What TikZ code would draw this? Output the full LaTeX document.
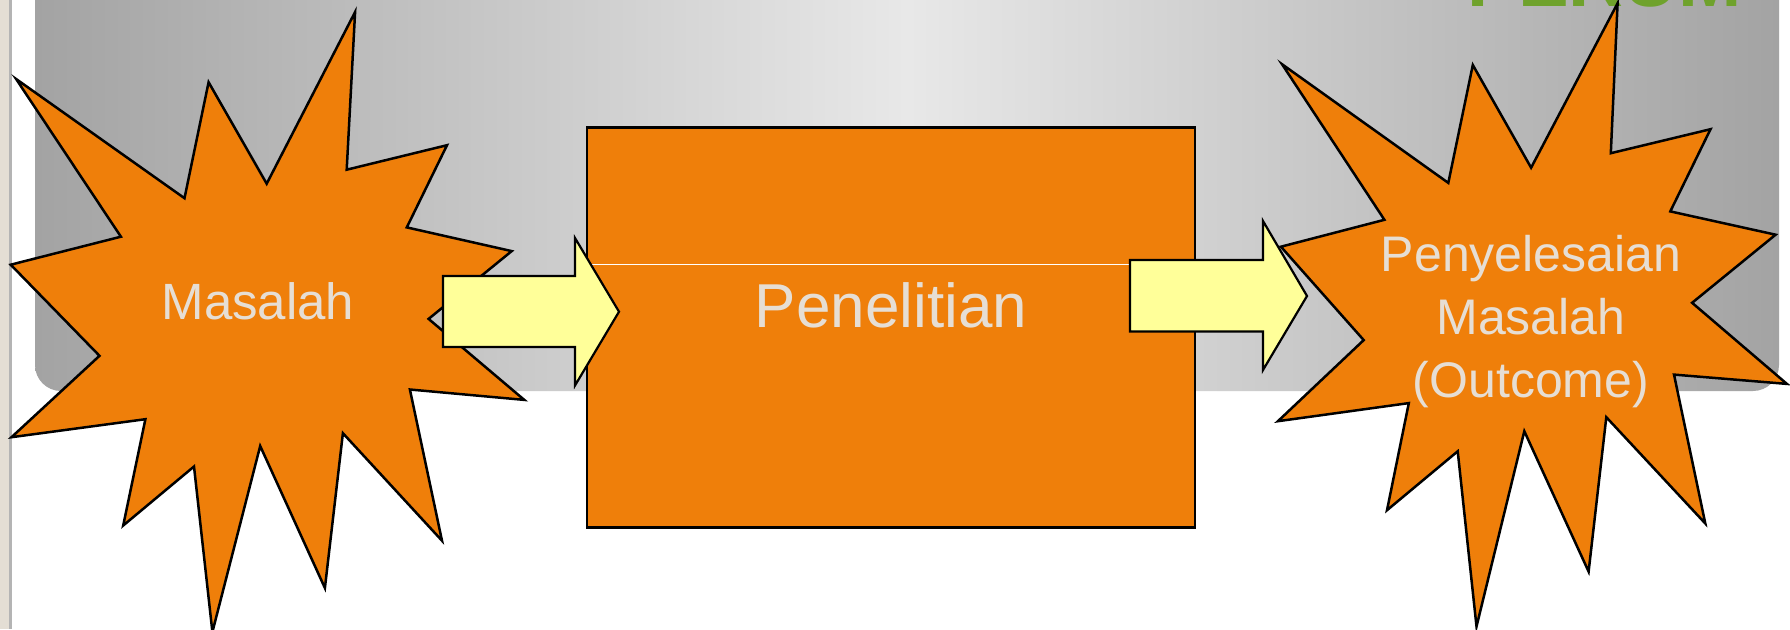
\documentclass[tikz,border=0pt]{standalone}
\usepackage{fontspec}
\setmainfont{Liberation Sans}
\usepackage{tikz}
\definecolor{burstorange}{HTML}{EF7F0A}
\definecolor{arrowyellow}{HTML}{FFFF99}
\definecolor{softtext}{HTML}{E6DED4}
\definecolor{titlegreen}{HTML}{6FA22C}
\definecolor{sidebar}{HTML}{E4DED4}
\definecolor{sideline}{HTML}{B4B4B4}
\definecolor{bannerdark}{HTML}{A3A3A3}
\definecolor{bannerlight}{HTML}{E8E8E8}

\begin{document}
\begin{tikzpicture}[x=1pt, y=-1pt, line join=miter]
			\tikzstyle{burst}=[fill=burstorange, draw=black, line width=2.5pt]
			\tikzstyle{blockarrow}=[fill=arrowyellow, draw=black, line width=2.2pt]
			\tikzstyle{box}=[rectangle, fill=burstorange, draw=black, line width=2.2pt, minimum width=608pt, minimum height=400pt, inner sep=0pt]
			\tikzstyle{annot}=[text=softtext, inner sep=0pt]
			\useasboundingbox (0,0) rectangle (1790,629);
			
			% Draw slide background
			\fill[white] (0,0) rectangle (1790,629);
			\fill[sidebar] (0,0) rectangle (9,629);
			\fill[sideline] (9,0) rectangle (12,629);
			\shade[left color=bannerdark, right color=bannerdark, middle color=bannerlight, rounded corners=26pt] (35,-60) rectangle (1779,391);
			\node[anchor=base east, text=titlegreen, inner sep=0pt, font=\fontsize{76}{76}\selectfont\bfseries] (judul) at (1742,6) {PERUM};
			
			% Draw starbursts
			\draw[burst] (16.1,79.0) -- (184.5,198.2) -- (208.6,82.2) -- (266.7,183.7) -- (355.1,12.0) -- (346.7,169.7) -- (447.0,145.2) -- (406.8,227.4) -- (511.7,251.1) -- (428.6,318.9) -- (524.3,399.9) -- (409.9,389.5) -- (442.0,540.7) -- (342.9,433.2) -- (324.9,588.0) -- (260.2,446.0) -- (212.4,632) -- (194.0,466.5) -- (123.2,525.5) -- (145.4,419.2) -- (11.5,437.2) -- (99.5,355.8) -- (10.7,264.7) -- (120.9,236.7) -- cycle;
			\draw[burst] (1282.0,64.2) -- (1448.3,182.9) -- (1472.8,65.0) -- (1531.1,167.7) -- (1617.6,3.2) -- (1610.8,153.2) -- (1710.5,129.2) -- (1670.3,211.4) -- (1775.6,234.7) -- (1692.1,302.8) -- (1786.9,383.9) -- (1674.0,374.6) -- (1705.3,523.5) -- (1606.3,417.2) -- (1588.6,571.6) -- (1524.3,431.2) -- (1476.5,626.5) -- (1457.7,451.3) -- (1387.0,510.2) -- (1408.8,403.1) -- (1277.9,421.2) -- (1363.7,340.1) -- (1280.9,246.7) -- (1384.4,219.8) -- cycle;
			\node[annot, anchor=base, font=\fontsize{51}{61}\selectfont] (masalah) at (258,319) {Masalah};
			\node[annot, anchor=base, align=center, font=\fontsize{50}{63}\selectfont] (hasil) at (1531,397) {Penyelesaian\\Masalah\\(Outcome)};
			
			% Draw research box
			\node[box] (riset) at (891,327.5) {};
			\draw[white, line width=0.8pt] (589,264) -- (1130,264);
			\node[annot, anchor=base, font=\fontsize{62}{62}\selectfont] (risetlabel) at (riset.center) {Penelitian};
			
			% Draw arrows
			\draw[blockarrow] (443,276) -- (575,276) -- (575,238) -- (619,311.7) -- (575,385.5) -- (575,347) -- (443,347) -- cycle;
			\draw[blockarrow] (1130,260) -- (1263,260) -- (1263,221) -- (1307,296) -- (1263,370) -- (1263,331.5) -- (1130,331.5) -- cycle;
			
		\end{tikzpicture}
\end{document}
